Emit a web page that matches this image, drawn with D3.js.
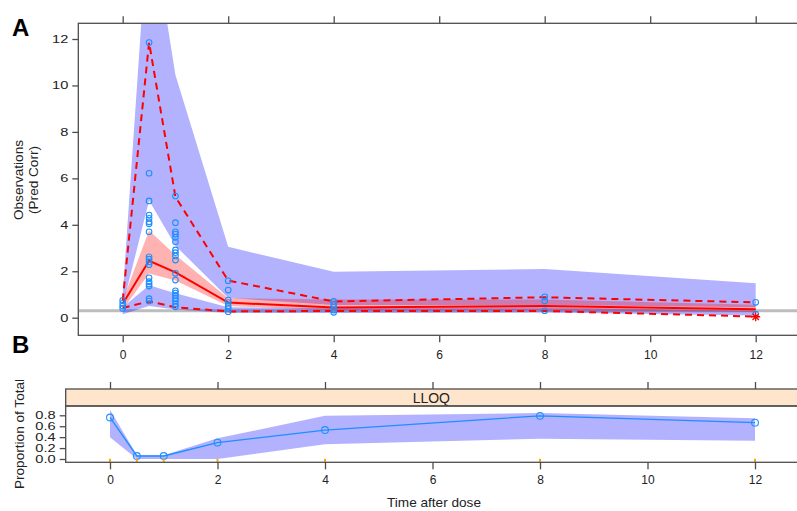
<!DOCTYPE html>
<html>
<head>
<meta charset="utf-8">
<script src="https://cdn.jsdelivr.net/npm/d3@7"></script>
<style>
  body { margin: 0; background: #fff; }
  svg { display: block; font-family: "Liberation Sans", Arial, sans-serif; }
</style>
</head>
<body>
<svg id="chart" width="797" height="511"></svg>
<script>
'use strict';

// sampling times (h)
var times = [0, 0.5, 1, 2, 4, 8, 12];

// observations (pred corr) at each time
var observed = [
  [0.75, 0.62, 0.5, 0.4],
  [11.85, 6.22, 5.03, 4.42, 4.28, 4.13, 4.04, 3.7, 2.62, 2.52, 2.4, 2.28, 1.72, 1.55, 1.45, 1.36, 0.82, 0.72],
  [5.24, 4.09, 3.7, 3.6, 3.46, 3.27, 2.92, 2.8, 2.66, 2.48, 1.91, 1.62, 1.16, 1.06, 0.96, 0.84, 0.73, 0.59, 0.47],
  [1.59, 1.19, 0.76, 0.65, 0.5, 0.39, 0.26],
  [0.7, 0.57, 0.45, 0.33, 0.23],
  [0.9, 0.72, 0.3],
  [0.66, 0.15]
];

// observed percentiles
var obsMedian = [0.6, 2.45, 1.95, 0.65, 0.44, 0.5, 0.36];
var obsP95 = [0.75, 11.85, 5.2, 1.6, 0.7, 0.88, 0.66];
var obsP05 = [0.42, 0.7, 0.45, 0.27, 0.29, 0.29, 0.05];

// simulated CIs of percentiles
var hiBandLo = [0.5, 5.05, 3.1, 0.85, 0.55, 0.55, 0.45];
var hiBandHi = [1.0, 17.6, 10.45, 3.05, 1.98, 2.1, 1.48];
var medBandLo = [0.35, 1.9, 1.6, 0.5, 0.32, 0.32, 0.26];
var medBandHi = [0.75, 3.75, 2.7, 0.84, 0.78, 0.78, 0.56];
var loBandLo = [0.15, 0.5, 0.35, 0.2, 0.2, 0.22, 0.1];
var loBandHi = [0.45, 1.4, 1.05, 0.45, 0.42, 0.45, 0.3];

var lloq = 0.3;
var outliers = [{t: 12, v: 0.04}];

// panel B: proportion below LLOQ
var blqObs = [0.76, 0.055, 0.055, 0.30, 0.53, 0.79, 0.665];
var blqLo = [0.40, 0.0, 0.0, 0.0, 0.27, 0.37, 0.335];
var blqHi = [0.90, 0.07, 0.07, 0.38, 0.79, 0.84, 0.745];

var xTicks = [0, 2, 4, 6, 8, 10, 12];
var yTicksA = [0, 2, 4, 6, 8, 10, 12];
var yTicksB = [0, 0.2, 0.4, 0.6, 0.8];

var boxCol = '#4d4d4d', ptCol = '#1e8fff', txtCol = '#222';

var svg = d3.select('#chart');

// ---------- panel A ----------
var A = {left: 78.3, top: 23.3, right: 800, bottom: 335.3};
var xA = d3.scaleLinear().domain([0, 12]).range([122.7, 755.7]);
var yA = d3.scaleLinear().domain([0, 12]).range([317.7, 39]);

svg.append('clipPath').attr('id', 'clipA').append('rect')
  .attr('x', A.left).attr('y', A.top)
  .attr('width', A.right - A.left).attr('height', A.bottom - A.top);

var gA = svg.append('g').attr('clip-path', 'url(#clipA)');

gA.append('line')
  .attr('x1', A.left).attr('x2', A.right)
  .attr('y1', yA(lloq)).attr('y2', yA(lloq))
  .attr('stroke', '#bdbdbd').attr('stroke-width', 3);

function band(lo, hi, xs, ys) {
  return d3.area()
    .x(function(i) { return xs(times[i]); })
    .y0(function(i) { return ys(lo[i]); })
    .y1(function(i) { return ys(hi[i]); })(d3.range(times.length));
}

gA.append('path').attr('d', band(hiBandLo, hiBandHi, xA, yA)).attr('fill', 'rgba(0,0,255,0.3)');
gA.append('path').attr('d', band(loBandLo, loBandHi, xA, yA)).attr('fill', 'rgba(0,0,255,0.3)');
gA.append('path').attr('d', band(medBandLo, medBandHi, xA, yA)).attr('fill', 'rgba(255,0,0,0.3)');

var lineA = function(vals) {
  return d3.line()
    .x(function(i) { return xA(times[i]); })
    .y(function(i) { return yA(vals[i]); })(d3.range(times.length));
};

[obsP95, obsP05].forEach(function(vals) {
  gA.append('path').attr('d', lineA(vals))
    .attr('fill', 'none').attr('stroke', 'red')
    .attr('stroke-width', 2).attr('stroke-dasharray', '7,5');
});
gA.append('path').attr('d', lineA(obsMedian))
  .attr('fill', 'none').attr('stroke', 'red').attr('stroke-width', 2);

var pts = [];
observed.forEach(function(vals, i) {
  vals.forEach(function(v) { pts.push({t: times[i], v: v}); });
});
gA.selectAll('circle.obs').data(pts).enter().append('circle')
  .attr('class', 'obs')
  .attr('cx', function(d) { return xA(d.t); })
  .attr('cy', function(d) { return yA(d.v); })
  .attr('r', 2.8)
  .attr('fill', 'none').attr('stroke', ptCol).attr('stroke-width', 1.1);

// asterisk for percentile outside PI
outliers.forEach(function(o) {
  var cx = xA(o.t), cy = yA(o.v), r = 4.5, p = '';
  for (var k = 0; k < 4; k++) {
    var a = Math.PI * k / 4;
    p += 'M' + (cx - r * Math.cos(a)) + ',' + (cy - r * Math.sin(a)) +
         'L' + (cx + r * Math.cos(a)) + ',' + (cy + r * Math.sin(a));
  }
  gA.append('path').attr('d', p).attr('stroke', 'red').attr('stroke-width', 1.3);
});

svg.append('rect')
  .attr('x', A.left).attr('y', A.top)
  .attr('width', A.right - A.left).attr('height', A.bottom - A.top)
  .attr('fill', 'none').attr('stroke', boxCol).attr('stroke-width', 1.3);

function styleAxis(g) {
  g.select('.domain').remove();
  g.selectAll('line').attr('stroke', boxCol).attr('stroke-width', 1.3);
  g.selectAll('text').attr('fill', txtCol).style('font-size', '12px')
    .style('font-family', '"Liberation Sans", Arial, sans-serif');
}

// y tick labels in the source look stretched sideways
function stretchY(g) {
  g.selectAll('.tick text').each(function() {
    var t = d3.select(this), x = +t.attr('x');
    t.attr('x', 0).attr('transform', 'translate(' + x + ',0) scale(1.22,0.88)');
  });
}

svg.append('g').attr('transform', 'translate(0,' + A.bottom + ')')
  .call(d3.axisBottom(xA).tickValues(xTicks).tickSize(7).tickPadding(8).tickSizeOuter(0))
  .call(styleAxis);
svg.append('g').attr('transform', 'translate(0,' + A.top + ')')
  .call(d3.axisTop(xA).tickValues(xTicks).tickSize(7).tickFormat('').tickSizeOuter(0))
  .call(styleAxis);
svg.append('g').attr('transform', 'translate(' + A.left + ',0)')
  .call(d3.axisLeft(yA).tickValues(yTicksA).tickSize(6).tickPadding(4).tickSizeOuter(0))
  .call(styleAxis).call(stretchY);

// ---------- panel B ----------
var B = {left: 65.7, stripTop: 389, top: 406, right: 800, bottom: 462.3};
var xB = d3.scaleLinear().domain([0, 12]).range([110, 755]);
var yB = d3.scaleLinear().domain([0, 0.8]).range([459, 415.3]);

svg.append('clipPath').attr('id', 'clipB').append('rect')
  .attr('x', B.left).attr('y', B.top)
  .attr('width', B.right - B.left).attr('height', B.bottom - B.top);
var gB = svg.append('g').attr('clip-path', 'url(#clipB)');

gB.append('path').attr('d', band(blqLo, blqHi, xB, yB)).attr('fill', 'rgba(0,0,255,0.3)');
gB.append('path')
  .attr('d', d3.line()
    .x(function(i) { return xB(times[i]); })
    .y(function(i) { return yB(blqObs[i]); })(d3.range(times.length)))
  .attr('fill', 'none').attr('stroke', ptCol).attr('stroke-width', 1.3);
gB.selectAll('circle').data(d3.range(times.length)).enter().append('circle')
  .attr('cx', function(i) { return xB(times[i]); })
  .attr('cy', function(i) { return yB(blqObs[i]); })
  .attr('r', 3.4)
  .attr('fill', 'none').attr('stroke', ptCol).attr('stroke-width', 1.1);
gB.selectAll('rect.rug').data(times).enter().append('rect')
  .attr('class', 'rug')
  .attr('x', function(t) { return xB(t) - 1; })
  .attr('y', B.bottom - 3.5).attr('width', 2).attr('height', 3)
  .attr('fill', '#ffa500');

svg.append('rect')
  .attr('x', B.left).attr('y', B.stripTop)
  .attr('width', B.right - B.left).attr('height', B.top - B.stripTop)
  .attr('fill', '#ffe5cc').attr('stroke', boxCol).attr('stroke-width', 1.3);
svg.append('text')
  .attr('x', (B.left + 797) / 2).attr('y', 402.5)
  .attr('text-anchor', 'middle').attr('fill', txtCol)
  .style('font-size', '14px').text('LLOQ');
svg.append('rect')
  .attr('x', B.left).attr('y', B.top)
  .attr('width', B.right - B.left).attr('height', B.bottom - B.top)
  .attr('fill', 'none').attr('stroke', boxCol).attr('stroke-width', 1.3);

svg.append('g').attr('transform', 'translate(0,' + B.bottom + ')')
  .call(d3.axisBottom(xB).tickValues(xTicks).tickSize(7).tickPadding(6).tickSizeOuter(0))
  .call(styleAxis);
svg.append('g').attr('transform', 'translate(0,' + B.stripTop + ')')
  .call(d3.axisTop(xB).tickValues(xTicks).tickSize(7).tickFormat('').tickSizeOuter(0))
  .call(styleAxis);
svg.append('g').attr('transform', 'translate(' + B.left + ',0)')
  .call(d3.axisLeft(yB).tickValues(yTicksB).tickFormat(d3.format('.1f')).tickSize(6).tickPadding(4).tickSizeOuter(0))
  .call(styleAxis).call(stretchY);

// ---------- labels ----------
svg.append('text').attr('x', 12).attr('y', 36)
  .style('font-size', '24px').style('font-weight', 'bold').text('A');
svg.append('text').attr('x', 12).attr('y', 353)
  .style('font-size', '24px').style('font-weight', 'bold').text('B');

var yLabA = svg.append('text')
  .attr('transform', 'translate(0,180) rotate(-90)')
  .attr('text-anchor', 'middle').attr('fill', txtCol).style('font-size', '13.6px');
yLabA.append('tspan').attr('x', 0).attr('y', 23).text('Observations');
yLabA.append('tspan').attr('x', 0).attr('y', 38).text('(Pred Corr)');

svg.append('text')
  .attr('transform', 'translate(24,434) rotate(-90)')
  .attr('text-anchor', 'middle').attr('fill', txtCol).style('font-size', '13.6px')
  .text('Proportion of Total');

svg.append('text').attr('x', 434).attr('y', 507)
  .attr('text-anchor', 'middle').attr('fill', txtCol).style('font-size', '13.6px')
  .text('Time after dose');
</script>
</body>
</html>
